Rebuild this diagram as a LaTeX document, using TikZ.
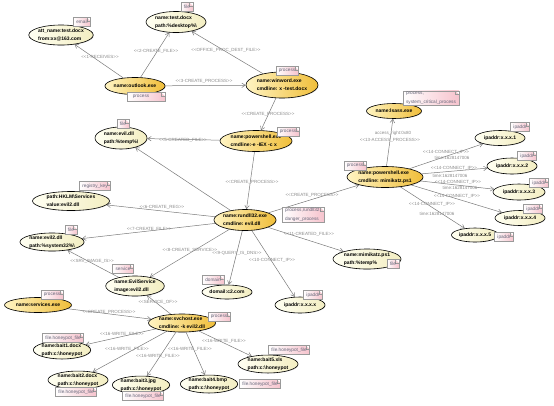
\documentclass[tikz,border=0pt]{standalone}
\usepackage{fontspec}
\setmainfont{Liberation Sans}
\usetikzlibrary{arrows.meta, shapes.geometric, shadows, backgrounds}
\definecolor{proclight}{HTML}{FFF4C2}
\definecolor{procdark} {HTML}{F0BE3A}
\definecolor{entlight} {HTML}{FFFFF2}
\definecolor{entdark}  {HTML}{F3EEC2}
\definecolor{tagpink}  {HTML}{F6C3CD}
\definecolor{tagline}  {HTML}{9A9A9A}
\definecolor{tagtext}  {HTML}{66667A}
\definecolor{edgegray} {HTML}{7A7A7A}
\definecolor{lablgray} {HTML}{8A8A8A}
\newcommand\entfont{\fontsize{5}{8}\selectfont\bfseries}
\newcommand\tagfont{\fontsize{4.7}{8.5}\selectfont}
\newcommand\lablfont{\fontsize{4.5}{6}\selectfont}
\newcommand\stp[1]{<{}<#1>{}>}
\tikzset{
  ent/.style     = {ellipse, draw=black, line width=0.6pt, inner sep=0pt,
                    align=left, font=\entfont,
                    left color=entlight, right color=entdark,
                    drop shadow={shadow xshift=0.6pt, shadow yshift=-0.6pt,
                                 opacity=0.3}},
  proc/.style    = {ent, left color=proclight, right color=procdark},
  tagnote/.style = {draw=tagline, line width=0.4pt, left color=white,
                    right color=tagpink, text=tagtext, font=\tagfont,
                    align=left, inner xsep=3pt, inner ysep=1.2pt,
                    minimum height=9pt,
                    drop shadow={shadow xshift=0.8pt, shadow yshift=-0.8pt,
                                 opacity=0.35},
                    path picture={
                      \fill[white] ([xshift=-3.5pt]path picture bounding box.north east)
                        -- (path picture bounding box.north east)
                        -- ([yshift=-3.5pt]path picture bounding box.north east) -- cycle;
                      \draw[tagline] ([xshift=-3.5pt]path picture bounding box.north east)
                        -- ++(0,-3.5pt) -- ++(3.5pt,0);}},
  arr/.style     = {-{Straight Barb[length=3.5pt, width=4.5pt]},
                    edgegray, line width=0.5pt},
  labl/.style    = {font=\lablfont, text=lablgray, inner sep=0pt},
}

\begin{document}
\begin{tikzpicture}[x=1pt, y=-1pt]
  \useasboundingbox (0,0) rectangle (554,405);

  % entities
  \node[ent,  minimum width=63, minimum height=20] (email)    at (61,35)   {att\_name:test.docx\\from:xx@163.com};
  \node[ent,  minimum width=60, minimum height=21] (testdocx) at (176,22)  {name:test.docx\\path:\%desktop\%\textbackslash};
  \node[proc, minimum width=60, minimum height=17] (outlook)  at (135,86)  {name:outlook.exe};
  \node[proc, minimum width=72, minimum height=26] (winword)  at (282,85)  {name:winword.exe\\cmdline: x -test.docx};
  \node[proc, minimum width=72, minimum height=21] (psA)      at (256,141) {name:powershell.exe\\cmdline:-e -IEX -c x};
  \node[ent,  minimum width=52, minimum height=22] (evildll)  at (121,138) {name:evil.dll\\path:\%temp\%\textbackslash};
  \node[ent,  minimum width=77, minimum height=19] (reg)      at (71,201)  {path:HKLM\textbackslash Services\\value:evil2.dll};
  \node[ent,  minimum width=63, minimum height=18] (evil2)    at (52,242)  {name:evil2.dll\\path:\%system32\%\textbackslash};
  \node[ent,  minimum width=56, minimum height=20] (evilsvc)  at (135,286) {name:EvilService\\image:evil2.dll};
  \node[proc, minimum width=56, minimum height=21] (rundll)   at (245,220) {name:rundll32.exe\\cmdline:\ evil.dll};
  \node[ent,  minimum width=50, minimum height=14] (domain)   at (227,292) {domail:c2.com};
  \node[ent,  minimum width=50, minimum height=16] (ipA)      at (300,305) {ipaddr:x.x.x.x};
  \node[ent,  minimum width=68, minimum height=20] (mimips1)  at (367,259) {name:mimikatz.ps1\\path:\%temp\%};
  \node[proc, minimum width=67, minimum height=15] (services) at (38,305)  {name:services.exe};
  \node[proc, minimum width=67, minimum height=18] (svchost)  at (182,323) {name:svchost.exe\\cmdline:\ -k evil2.dll};
  \node[ent,  minimum width=57, minimum height=16] (bait1)    at (62,350)  {name:bait1.docx\\path:c:\textbackslash honeypot};
  \node[ent,  minimum width=60, minimum height=17] (bait2)    at (78,380)  {name:bait2.docx\\path:c:\textbackslash honeypot};
  \node[ent,  minimum width=53, minimum height=16] (bait3)    at (141,385) {name:bait3.jpg\\path:c:\textbackslash honeypot};
  \node[ent,  minimum width=55, minimum height=16] (bait4)    at (209,384) {name:bait4.bmp\\path:c:\textbackslash honeypot};
  \node[ent,  minimum width=60, minimum height=17] (bait5)    at (268,364) {name:bait5.xls\\path:c:\textbackslash honeypot};
  \node[proc, minimum width=55, minimum height=15] (lsass)    at (394,111) {name:lsass.exe};
  \node[proc, minimum width=76, minimum height=21] (psB)      at (385,177) {name:powershell.exe\\cmdline:\ mimikatz.ps1};
  \node[ent,  minimum width=50, minimum height=15] (ip1)      at (500,138) {ipaddr:x.x.x.1};
  \node[ent,  minimum width=50, minimum height=16] (ip2)      at (512,166) {ipaddr:x.x.x.2};
  \node[ent,  minimum width=52, minimum height=16] (ip3)      at (519,192) {ipaddr:x.x.x.3};
  \node[ent,  minimum width=50, minimum height=15] (ip4)      at (520,218) {ipaddr:x.x.x.4};
  \node[ent,  minimum width=47, minimum height=14] (ip5)      at (475,235) {ipaddr:x.x.x.5};

  % type tags
  \node[tagnote] (t-email)    at (82,22)   {email};
  \node[tagnote] (t-testdocx) at (187,7)   {file};
  \node[tagnote, minimum width=38] (t-outlook) at (146,97) {process\hspace{10pt}};
  \node[tagnote] (t-winword)  at (287,71)  {process};
  \node[tagnote] (t-psA)      at (288,132) {process};
  \node[tagnote] (t-evildll)  at (123,124) {file};
  \node[tagnote] (t-reg)      at (95,186)  {registry\_key};
  \node[tagnote] (t-evil2)    at (71,230)  {file};
  \node[tagnote] (t-evilsvc)  at (123,269) {service};
  \node[tagnote] (t-rundll)   at (303,215) {process,rundll32,\\danger\_process\hspace{8pt}};
  \node[tagnote] (t-domain)   at (213,280) {domain};
  \node[tagnote] (t-ipA)      at (313,295) {ipaddr};
  \node[tagnote] (t-mimips1)  at (393,264) {file};
  \node[tagnote] (t-services) at (52,295)  {process};
  \node[tagnote] (t-svchost)  at (219,317) {process};
  \node[tagnote] (t-bait1)    at (63,338)  {file.honeypot\_file};
  \node[tagnote] (t-bait2)    at (76,392)  {file.honeypot\_file};
  \node[tagnote] (t-bait3)    at (143,396) {file.honeypot\_file};
  \node[tagnote] (t-bait4)    at (260,384) {file.honeypot\_file};
  \node[tagnote] (t-bait5)    at (289,350) {file.honeypot\_file};
  \node[tagnote] (t-lsass)    at (431,98)  {process,\\system\_critical\_process\hspace{6pt}};
  \node[tagnote] (t-psB)      at (355,166) {process};
  \node[tagnote] (t-ip1)      at (520,127) {ipaddr};
  \node[tagnote] (t-ip2)      at (527,156) {ipaddr};
  \node[tagnote] (t-ip3)      at (539,183) {ipaddr};
  \node[tagnote] (t-ip4)      at (533,209) {ipaddr};
  \node[tagnote] (t-ip5)      at (504,237) {ipaddr};

  % relations
  \begin{scope}[on background layer]
    \foreach \a/\b in {outlook/email, outlook/testdocx, outlook/winword,
                       winword/testdocx, winword/psA, psA/evildll, psA/rundll,
                       rundll/evildll, rundll/reg, rundll/evil2, evilsvc/evil2,
                       rundll/evilsvc, rundll/domain, rundll/ipA, rundll/mimips1,
                       rundll/psB, psB/lsass, psB/ip1, psB/ip2, psB/ip3, psB/ip4,
                       psB/ip5, services/svchost, svchost/evilsvc, svchost/bait1,
                       svchost/bait2, svchost/bait3, svchost/bait4, svchost/bait5}
      \draw[arr] (\a) -- (\b);
  \end{scope}

  % relation labels
  \node[labl] (l-recv)    at (100,57)  {\stp{1-RECEIVES}};
  \node[labl] (l-cfile2)  at (156,51)  {\stp{2-CREATE\_FILE}};
  \node[labl] (l-cproc3)  at (204,81)  {\stp{3-CREATE\_PROCESS}};
  \node[labl] (l-office)  at (226,50)  {\stp{OFFICE\_PROC\_DEST\_FILE}};
  \node[labl] (l-cprocA)  at (268,114) {\stp{CREATE\_PROCESS}};
  \node[labl] (l-cfile5)  at (183,140) {\stp{5-CREATED\_FILE}};
  \node[labl] (l-cprocB)  at (252,182) {\stp{CREATE\_PROCESS}};
  \node[labl] (l-creg6)   at (162,207) {\stp{6-CREATE\_REG}};
  \node[labl] (l-cfile7)  at (149,229) {\stp{7-CREATE\_FILE}};
  \node[labl] (l-srvimg)  at (92,261)  {\stp{SRV\_IMAGE\_IS}};
  \node[labl] (l-csrv8)   at (190,250) {\stp{8-CREATE\_SERVICE}};
  \node[labl] (l-dns9)    at (237,253) {\stp{9-QUERY\_IS\_DNS}};
  \node[labl] (l-conn10)  at (272,260) {\stp{10-CONNECT\_IP}};
  \node[labl] (l-cfile11) at (309,234) {\stp{11-CREATED\_FILE}};
  \node[labl] (l-cprocC)  at (312,195) {\stp{CREATE\_PROCESS}};
  \node[labl] (l-access)  at (393,133) {access\_right:0x80};
  \node[labl] (l-acc13)   at (390,140) {\stp{13-ACCESS\_PROCESS}};
  \node[labl] (l-c1)      at (446,152) {\stp{14-CONNECT\_IP}};
  \node[labl] (l-tm1)     at (452,158) {time:1628147006};
  \node[labl] (l-c2)      at (454,168) {\stp{14-CONNECT\_IP}};
  \node[labl] (l-tm2)     at (450,176) {time:1628147006};
  \node[labl] (l-c3)      at (458,182) {\stp{14-CONNECT\_IP}};
  \node[labl] (l-tm3)     at (460,188) {time:1628147006};
  \node[labl] (l-c4)      at (457,196) {\stp{14-CONNECT\_IP}};
  \node[labl] (l-c5)      at (432,204) {\stp{14-CONNECT\_IP}};
  \node[labl] (l-tm5)     at (437,214) {time:1628147006};
  \node[labl] (l-cprocD)  at (109,312) {\stp{CREATE\_PROCESS}};
  \node[labl] (l-srvof)   at (158,302) {\stp{SERVICE\_OF}};
  \node[labl] (l-w1)      at (122,334) {\stp{16-WRITE\_FILE}};
  \node[labl] (l-w2)      at (127,349) {\stp{16-WRITE\_FILE}};
  \node[labl] (l-w3)      at (158,356) {\stp{16-WRITE\_FILE}};
  \node[labl] (l-w4)      at (190,349) {\stp{16-WRITE\_FILE}};
  \node[labl] (l-w5)      at (224,341) {\stp{16-WRITE\_FILE}};

\end{tikzpicture}
\end{document}
